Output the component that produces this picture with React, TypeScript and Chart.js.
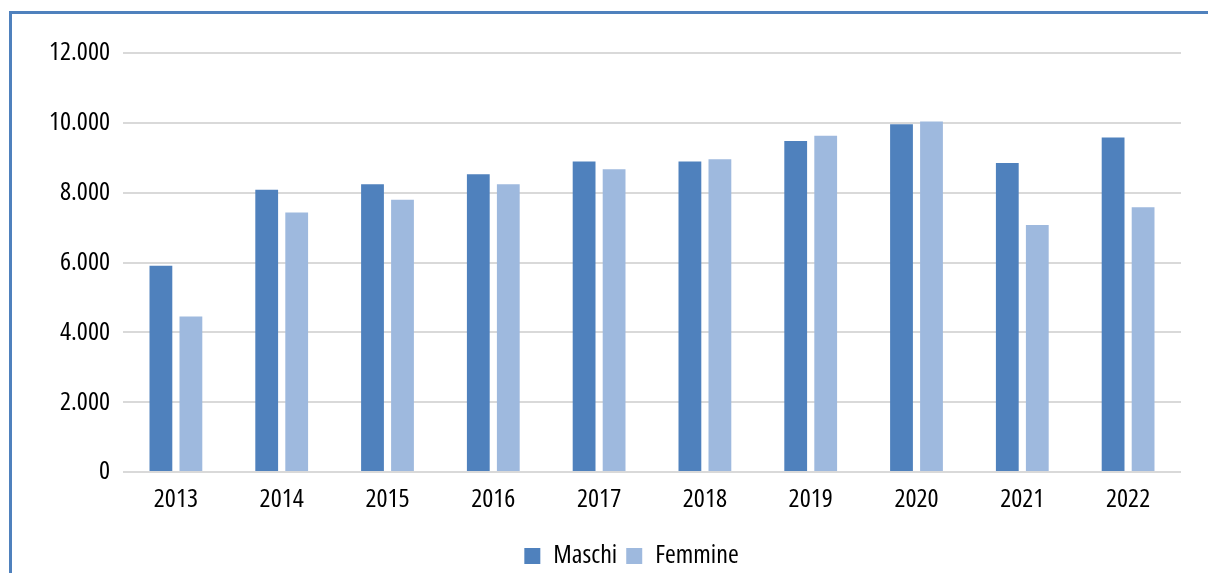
import React, { useEffect, useRef } from "react";
import { Chart, registerables } from "chart.js";

Chart.register(...registerables);

const years = ["2013", "2014", "2015", "2016", "2017", "2018", "2019", "2020", "2021", "2022"];
const maschi = [5910, 8085, 8240, 8530, 8890, 8890, 9480, 9960, 8850, 9580];
const femmine = [4455, 7435, 7800, 8240, 8670, 8960, 9630, 10040, 7072, 7585];
const seriesLabels = ["Maschi", "Femmine"];
const seriesColors = ["#4F81BD", "#9EB9DE"];

const FONT = "'Open Sans', 'DejaVu Sans', sans-serif";
const STRETCH = "ultra-condensed";

function fmt(v: number): string {
  return String(v).replace(/\B(?=(\d{3})+(?!\d))/g, ".");
}

const legendOffset = {
  id: "legendOffset",
  afterLayout(chart: any) {
    const l = chart.legend;
    if (!l) return;
    const dx = 41;
    const dy = 6;
    l.left += dx;
    l.right += dx;
    l.top += dy;
    l.bottom += dy;
  },
};

export default function App() {
  const ref = useRef<HTMLCanvasElement | null>(null);

  useEffect(() => {
    if (!ref.current) return;
    const font = { family: FONT, size: 26, weight: STRETCH as any };
    const chart = new Chart(ref.current, {
      type: "bar",
      data: {
        labels: years,
        datasets: [
          {
            label: seriesLabels[0],
            data: maschi,
            backgroundColor: seriesColors[0],
            categoryPercentage: 0.567,
            barPercentage: 0.76,
          },
          {
            label: seriesLabels[1],
            data: femmine,
            backgroundColor: seriesColors[1],
            categoryPercentage: 0.567,
            barPercentage: 0.76,
          },
        ],
      },
      plugins: [legendOffset],
      options: {
        animation: false,
        responsive: false,
        maintainAspectRatio: false,
        layout: { padding: { top: 53, right: 27, left: 0, bottom: 0 } },
        plugins: {
          tooltip: { enabled: false },
          legend: {
            position: "bottom",
            labels: {
              boxWidth: 16,
              boxHeight: 16,
              padding: 9,
              color: "#000",
              font: font,
            },
          },
        },
        scales: {
          x: {
            grid: { display: false },
            border: { display: false },
            ticks: {
              color: "#000",
              padding: 4,
              font: font,
              maxRotation: 0,
            },
            afterFit: (s: any) => {
              s.height = 56;
            },
          },
          y: {
            min: 0,
            max: 12000,
            grid: { color: "#D9D9D9", lineWidth: 2, drawTicks: false },
            border: { display: false },
            ticks: {
              stepSize: 2000,
              color: "#000",
              padding: 13,
              font: font,
              callback: (v: any) => fmt(Number(v)),
            },
            afterFit: (s: any) => {
              s.width = 123;
            },
          },
        },
      },
    });
    return () => chart.destroy();
  }, []);

  return (
    <div
      style={{
        position: "fixed",
        left: 0,
        top: 0,
        width: 1208,
        height: 573,
        overflow: "hidden",
        background: "#fff",
      }}
    >
      <div
        style={{
          position: "absolute",
          left: 9,
          top: 11,
          width: 1400,
          height: 800,
          borderLeft: "3px solid #4F81BD",
          borderTop: "3px solid #4F81BD",
        }}
      />
      <canvas
        ref={ref}
        width={1208}
        height={573}
        style={{ position: "absolute", left: 0, top: 0, width: 1208, height: 573 }}
      />
    </div>
  );
}
